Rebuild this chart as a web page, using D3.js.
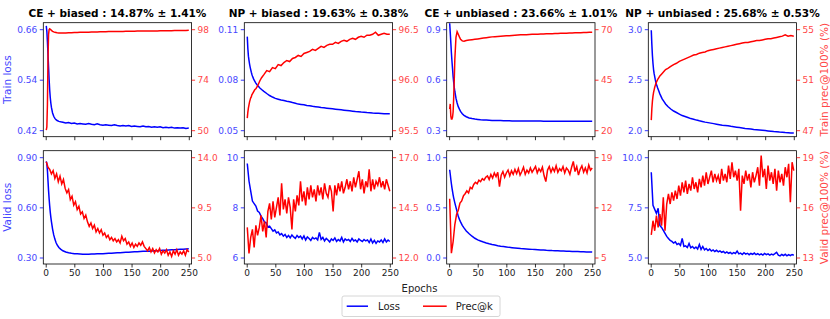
<!doctype html>
<html>
<head>
<meta charset="UTF-8">
<script src="https://d3js.org/d3.v7.min.js"></script>
<style>
  body { margin: 0; background: #fff; }
  svg { font-family: "DejaVu Sans", sans-serif; }
</style>
</head>
<body>
<script>
// epochs grids
const epochsA = [1,2,3,4,5,6,7,8,9,10,12,14,16,18,20,23,26,30,35,40,45,50,55,60,65,70,75,80,85,90,95,100,
  105,110,115,120,125,130,135,140,145,150,155,160,165,170,175,180,185,190,195,200,205,210,215,220,225,230,235,240,245,250];
const epochsB = d3.range(1, 251, 3);

// top row: train loss / train prec@100%
const trainLossCEb = [0.668,0.655,0.63,0.60,0.57,0.54,0.515,0.497,0.484,0.474,0.461,0.453,0.448,0.445,0.443,0.441,0.440,0.439,0.437,0.438,
  0.436,0.437,0.435,0.436,0.435,0.434,0.436,0.434,0.433,0.435,0.433,0.432,0.433,0.432,0.431,0.433,0.431,0.430,0.431,0.430,
  0.431,0.429,0.430,0.429,0.428,0.430,0.428,0.429,0.427,0.428,0.427,0.428,0.426,0.427,0.426,0.427,0.425,0.426,0.425,0.426,0.424,0.425];
const trainPrecCEb = [50.0,51.5,62,84,95.5,97.8,98.2,98.0,97.7,97.4,97.0,96.7,96.5,96.4,96.3,96.2,96.2,96.2,96.25,96.3,
  96.35,96.4,96.45,96.5,96.55,96.6,96.6,96.65,96.7,96.7,96.75,96.8,96.8,96.85,96.85,96.9,96.9,96.95,96.95,97.0,
  97.0,97.05,97.05,97.1,97.1,97.1,97.15,97.15,97.2,97.2,97.2,97.25,97.25,97.3,97.3,97.3,97.35,97.35,97.4,97.4,97.4,97.45];
const trainLossNPb = [0.1056,0.0985,0.094,0.0915,0.0893,0.0875,0.086,0.0845,0.0832,0.0822,0.0805,0.0791,0.0780,0.0770,0.0762,0.0751,0.0742,0.0731,0.0718,0.0706,
  0.0697,0.0689,0.0684,0.0679,0.0676,0.0672,0.0669,0.0664,0.0660,0.0655,0.0653,0.0651,0.0647,0.0645,0.0642,0.0640,0.0638,0.0635,0.0633,0.0631,
  0.0629,0.0627,0.0625,0.0623,0.0621,0.0619,0.0617,0.0615,0.0613,0.0611,0.0610,0.0608,0.0607,0.0605,0.0604,0.0602,0.0601,0.0600,0.0599,0.0598,0.0597,0.0597];
const trainPrecNPb = [95.62,95.68,95.72,95.75,95.78,95.80,95.82,95.83,95.85,95.86,95.88,95.90,95.91,95.93,95.95,95.99,96.02,96.05,96.09,96.08,
  96.12,96.11,96.15,96.14,96.17,96.19,96.18,96.21,96.22,96.24,96.23,96.26,96.27,96.28,96.30,96.29,96.31,96.33,96.32,96.34,
  96.35,96.35,96.37,96.36,96.38,96.39,96.38,96.40,96.41,96.40,96.42,96.43,96.42,96.44,96.44,96.45,96.47,96.44,96.45,96.46,96.45,96.45];
const trainLossCEu = [0.935,0.88,0.82,0.76,0.71,0.665,0.62,0.585,0.555,0.53,0.49,0.462,0.44,0.425,0.412,0.398,0.388,0.38,0.373,0.369,
  0.366,0.364,0.362,0.361,0.360,0.359,0.358,0.358,0.357,0.357,0.356,0.356,0.356,0.355,0.355,0.355,0.355,0.354,0.354,0.354,
  0.354,0.354,0.354,0.354,0.353,0.353,0.353,0.353,0.353,0.353,0.353,0.353,0.353,0.353,0.353,0.353,0.353,0.353,0.353,0.353,0.353,0.353];
const trainPrecCEu = [30.5,33,27,25.5,25.5,26.5,29,36,45,55,66,68.8,67.5,66.2,65,64.2,64.0,64.4,64.6,64.8,
  65.0,65.2,65.4,65.6,65.8,66.0,66.2,66.3,66.4,66.5,66.6,66.7,66.8,66.9,67.0,67.1,67.2,67.25,67.3,67.4,
  67.45,67.5,67.55,67.6,67.65,67.7,67.75,67.8,67.85,67.9,67.95,68.0,68.05,68.1,68.15,68.2,68.25,68.3,68.35,68.4,68.45,68.5];
const trainLossNPu = [2.99,2.85,2.74,2.66,2.60,2.56,2.53,2.50,2.475,2.455,2.42,2.39,2.36,2.335,2.31,2.285,2.26,2.235,2.21,2.19,
  2.175,2.16,2.145,2.135,2.125,2.115,2.108,2.10,2.093,2.087,2.08,2.075,2.07,2.065,2.06,2.055,2.05,2.047,2.043,2.038,
  2.034,2.03,2.026,2.022,2.018,2.015,2.012,2.008,2.005,2.002,1.999,1.996,1.993,1.99,1.987,1.985,1.982,1.98,1.977,1.975,1.973,1.972];
const trainPrecNPu = [47.8,48.7,49.3,49.7,50.0,50.2,50.4,50.55,50.7,50.8,51.0,51.15,51.3,51.4,51.5,51.65,51.8,51.9,52.05,52.2,
  52.3,52.45,52.55,52.65,52.75,52.85,52.95,53.0,53.1,53.15,53.2,53.3,53.35,53.4,53.45,53.5,53.55,53.6,53.65,53.7,
  53.75,53.8,53.85,53.9,53.95,53.95,54.0,54.05,54.1,54.1,54.15,54.2,54.25,54.25,54.3,54.35,54.4,54.45,54.55,54.45,54.5,54.45];

// bottom row: valid loss / valid prec@100%
const validLossCEb = [0.875,0.86,0.82,0.76,0.70,0.65,0.607,0.57,0.54,0.515,0.47,0.435,0.41,0.39,0.375,0.36,0.35,0.34,0.333,0.328,
  0.325,0.323,0.322,0.321,0.32,0.32,0.32,0.321,0.321,0.322,0.322,0.323,0.324,0.325,0.326,0.327,0.328,0.329,0.330,0.331,
  0.332,0.333,0.334,0.335,0.336,0.337,0.338,0.338,0.339,0.340,0.341,0.342,0.343,0.344,0.345,0.346,0.347,0.348,0.349,0.350,0.351,0.352];
const validPrecCEb = [13.6,13.1,12.9,12.5,12.8,12.1,12.5,11.8,12.3,11.6,
  12.0,11.2,10.8,11.1,10.2,10.5,9.7,10.0,9.3,9.6,
  8.9,9.1,8.5,8.8,8.2,7.8,8.1,7.6,7.9,7.3,
  7.6,7.2,7.5,7.0,7.2,6.8,7.0,6.6,6.8,6.5,
  6.7,6.4,6.6,6.3,6.9,6.5,6.7,6.2,6.4,6.0,
  6.3,5.9,6.2,6.0,6.3,6.1,6.4,6.0,5.8,5.6,
  5.9,5.5,5.8,5.4,5.7,5.5,5.8,5.3,5.6,5.4,
  5.7,5.2,5.5,5.1,5.6,5.3,5.7,5.2,5.5,5.3,
  5.6,5.2,5.7,5.5];
const validLossNPb = [9.75,9.05,8.65,8.25,8.15,8.05,7.85,7.80,7.65,7.55,
  7.42,7.38,7.22,7.25,7.15,7.05,7.10,6.98,7.02,6.90,
  6.95,6.85,6.92,6.80,6.88,6.78,6.90,6.82,6.76,6.88,
  6.80,6.85,6.74,6.86,6.70,6.82,6.76,6.68,6.80,6.74,
  6.78,6.70,7.00,6.72,6.80,6.66,6.76,6.70,6.62,6.74,
  6.68,6.78,6.64,6.72,6.66,6.80,6.62,6.74,6.68,6.72,
  6.64,6.76,6.66,6.70,6.62,6.74,6.68,6.64,6.72,6.66,
  6.70,6.60,6.74,6.58,6.68,6.56,6.66,6.62,6.70,6.60,
  6.74,6.62,6.70,6.64];
const validPrecNPb = [13.5,12.2,13.0,13.4,12.5,13.6,13.1,13.5,14.1,13.3,
  13.8,13.0,14.3,14.7,13.9,14.8,14.0,14.5,15.0,14.1,
  15.7,14.4,14.9,14.2,15.0,14.5,13.4,14.9,14.3,15.1,
  14.6,15.8,14.8,15.3,14.6,15.5,14.9,15.6,15.0,15.4,
  14.8,15.6,15.1,15.5,14.9,15.7,15.2,15.0,15.6,15.3,
  14.3,15.6,15.1,15.7,15.3,15.8,15.2,15.5,15.9,15.4,
  15.8,15.3,16.0,15.5,15.9,16.3,15.4,15.9,15.2,15.8,
  15.5,16.4,15.3,15.9,15.4,15.8,15.6,16.0,15.5,15.8,
  15.4,15.9,15.6,15.3];
const validLossCEu = [0.875,0.83,0.78,0.735,0.695,0.66,0.625,0.595,0.57,0.545,0.50,0.455,0.41,0.38,0.355,0.32,0.295,0.265,0.237,0.212,
  0.192,0.176,0.164,0.154,0.145,0.137,0.13,0.124,0.118,0.113,0.109,0.105,0.101,0.098,0.095,0.092,0.089,0.087,0.085,0.083,
  0.081,0.079,0.077,0.075,0.074,0.072,0.071,0.069,0.068,0.067,0.065,0.064,0.063,0.062,0.061,0.060,0.059,0.058,0.057,0.056,0.055,0.054];
const validPrecCEu = [13.2,5.6,7.2,9.6,11.0,11.6,12.6,12.9,13.6,13.9,
  14.3,14.0,14.8,14.6,15.2,15.5,15.3,15.8,15.6,16.0,
  15.8,16.2,16.4,15.9,16.6,16.1,16.8,16.3,16.9,14.9,
  16.5,17.0,16.2,16.8,17.2,16.4,17.1,16.6,17.3,16.7,
  17.4,16.5,17.0,17.6,16.6,17.2,16.8,17.5,16.9,17.3,
  17.7,16.8,17.4,17.0,17.6,16.4,15.6,17.2,17.7,16.9,
  17.5,17.0,17.8,16.9,17.4,17.1,17.7,16.8,17.5,17.2,
  16.6,17.6,18.4,17.0,17.7,16.5,17.3,17.8,16.9,17.5,
  16.8,17.9,17.2,17.5];
const validLossNPu = [9.25,7.6,7.4,7.2,7.45,6.6,6.5,6.35,6.2,6.05,
  5.95,5.85,5.80,5.72,5.78,5.65,5.70,5.60,5.95,5.55,
  5.58,5.50,5.70,5.48,5.55,5.45,5.52,5.42,5.65,5.40,
  5.55,5.38,5.45,5.35,5.42,5.32,5.38,5.30,5.36,5.28,
  5.33,5.26,5.30,5.22,5.28,5.21,5.25,5.18,5.24,5.20,
  5.32,5.18,5.22,5.15,5.24,5.17,5.21,5.14,5.20,5.16,
  5.22,5.14,5.19,5.13,5.18,5.12,5.20,5.14,5.18,5.12,
  5.17,5.13,5.19,5.26,5.12,5.08,5.15,5.10,5.16,5.08,
  5.14,5.09,5.15,5.11];
const validPrecNPu = [14.35,15.2,14.6,15.5,14.8,15.6,14.9,16.6,14.6,16.2,
  16.8,16.2,16.9,16.4,17.0,16.5,17.3,16.7,17.5,16.9,
  17.6,16.8,17.4,17.0,17.8,17.1,17.5,16.9,17.7,17.2,
  17.9,17.3,18.1,17.4,17.8,18.2,17.5,18.0,17.6,17.9,
  17.4,18.3,17.6,18.0,17.5,18.5,17.7,18.7,17.8,18.2,
  17.6,18.3,15.8,17.9,17.4,18.2,17.6,18.0,17.2,18.1,
  17.5,17.9,18.4,17.3,19.1,17.8,18.3,17.1,18.5,17.6,
  18.1,17.4,18.3,17.0,18.2,17.5,18.0,17.3,18.4,17.8,
  18.6,16.3,18.7,18.2];

// titles and tick labels
const titles = ["CE + biased : 14.87% \u00b1 1.41%", "NP + biased : 19.63% \u00b1 0.38%",
  "CE + unbiased : 23.66% \u00b1 1.01%", "NP + unbiased : 25.68% \u00b1 0.53%"];
const xTicks = [0, 50, 100, 150, 200, 250];
const lossTicks = [["0.42","0.54","0.66"], ["0.05","0.08","0.11"], ["0.3","0.6","0.9"], ["2.0","2.5","3.0"],
  ["0.30","0.60","0.90"], ["6","8","10"], ["0.0","0.5","1.0"], ["5.0","7.5","10.0"]];
const precTicks = [["50","74","98"], ["95.5","96.0","96.5"], ["20","45","70"], ["47","51","55"],
  ["5.0","9.5","14.0"], ["12.0","14.5","17.0"], ["5","12","19"], ["13","16","19"]];
const lossSeries = [trainLossCEb, trainLossNPb, trainLossCEu, trainLossNPu, validLossCEb, validLossNPb, validLossCEu, validLossNPu];
const precSeries = [trainPrecCEb, trainPrecNPb, trainPrecCEu, trainPrecNPu, validPrecCEb, validPrecNPb, validPrecCEu, validPrecNPu];
const lossEpochs = [epochsA, epochsA, epochsA, epochsA, epochsA, epochsB, epochsA, epochsB];
const precEpochs = [epochsA, epochsA, epochsA, epochsA, epochsB, epochsB, epochsB, epochsB];

const W = 830, H = 319;
const colLeft = [43.3, 244.3, 446.7, 648.3];
const pw = 148.3;
const rowTop = [22.7, 150.7];
const ph = [114, 113.3];
const BLUE = "#0000ff", RED = "#ff0000";
const BLUE_TXT = "#4747ff", RED_TXT = "#ff4747";

const svg = d3.select("body").append("svg")
  .attr("width", W).attr("height", H);

for (let k = 0; k < 8; k++) {
  const r = Math.floor(k / 4), c = k % 4;
  const left = colLeft[c], top = rowTop[r], h = ph[r];
  const g = svg.append("g").attr("transform", "translate(" + left + "," + top + ")");

  const x = d3.scaleLinear().domain([-4.2, 254.9]).range([0, pw]);
  const lv = lossTicks[k].map(Number), pv = precTicks[k].map(Number);
  const yL = d3.scaleLinear().domain([lv[0], lv[2]]).range([h - 6.5, 6.5]);
  const yR = d3.scaleLinear().domain([pv[0], pv[2]]).range([h - 6.5, 6.5]);

  g.append("clipPath").attr("id", "clip" + k)
    .append("rect").attr("width", pw).attr("height", h);

  const lineL = d3.line().x(d => x(d[0])).y(d => yL(d[1]));
  const lineR = d3.line().x(d => x(d[0])).y(d => yR(d[1]));

  g.append("path")
    .datum(lossEpochs[k].map((e, i) => [e, lossSeries[k][i]]))
    .attr("d", lineL).attr("fill", "none").attr("stroke", BLUE)
    .attr("stroke-width", 1.5).attr("clip-path", "url(#clip" + k + ")");
  g.append("path")
    .datum(precEpochs[k].map((e, i) => [e, precSeries[k][i]]))
    .attr("d", lineR).attr("fill", "none").attr("stroke", RED)
    .attr("stroke-width", 1.5).attr("clip-path", "url(#clip" + k + ")");

  g.append("rect").attr("width", pw).attr("height", h)
    .attr("fill", "none").attr("stroke", "#000").attr("stroke-width", 0.8);

  const ax = g.append("g").attr("transform", "translate(0," + h + ")")
    .call(d3.axisBottom(x).tickValues(xTicks).tickSize(3.5).tickPadding(2.5)
      .tickFormat(r === 1 ? d3.format("d") : ""));
  ax.select(".domain").remove();
  ax.selectAll("line").attr("stroke", "#000").attr("stroke-width", 0.8);
  ax.selectAll("text").attr("fill", "#222").style("font-size", "9px").style("font-family", "DejaVu Sans");

  const al = g.append("g")
    .call(d3.axisLeft(yL).tickValues(lv).tickFormat((d, i) => lossTicks[k][i]).tickSize(3.5).tickPadding(2.5));
  al.select(".domain").remove();
  al.selectAll("line").attr("stroke", BLUE).attr("stroke-width", 0.8);
  al.selectAll("text").attr("fill", BLUE_TXT).style("font-size", "9px").style("font-family", "DejaVu Sans");

  const ar = g.append("g").attr("transform", "translate(" + pw + ",0)")
    .call(d3.axisRight(yR).tickValues(pv).tickFormat((d, i) => precTicks[k][i]).tickSize(3.5).tickPadding(2.5));
  ar.select(".domain").remove();
  ar.selectAll("line").attr("stroke", RED).attr("stroke-width", 0.8);
  ar.selectAll("text").attr("fill", RED_TXT).style("font-size", "9px").style("font-family", "DejaVu Sans");

  if (r === 0) {
    g.append("text").attr("x", pw / 2).attr("y", -5.5)
      .attr("text-anchor", "middle").attr("font-weight", "bold")
      .attr("font-size", "10.5px").attr("fill", "#000").text(titles[c]);
  }
}

// axis labels
svg.append("text").attr("transform", "translate(10.5," + (rowTop[0] + ph[0] / 2) + ") rotate(-90)")
  .attr("text-anchor", "middle").attr("font-size", "10.5px").attr("fill", BLUE_TXT).text("Train loss");
svg.append("text").attr("transform", "translate(10.5," + (rowTop[1] + ph[1] / 2) + ") rotate(-90)")
  .attr("text-anchor", "middle").attr("font-size", "10.5px").attr("fill", BLUE_TXT).text("Valid loss");
svg.append("text").attr("transform", "translate(827.5," + (rowTop[0] + ph[0] / 2) + ") rotate(-90)")
  .attr("text-anchor", "middle").attr("font-size", "10.5px").attr("fill", RED_TXT).text("Train prec@100% (%)");
svg.append("text").attr("transform", "translate(827.5," + (rowTop[1] + ph[1] / 2) + ") rotate(-90)")
  .attr("text-anchor", "middle").attr("font-size", "10.5px").attr("fill", RED_TXT).text("Valid prec@100% (%)");
svg.append("text").attr("x", 419.5).attr("y", 292)
  .attr("text-anchor", "middle").attr("font-size", "10px").attr("fill", "#222").text("Epochs");

// legend
const lg = svg.append("g").attr("transform", "translate(342,296)");
lg.append("rect").attr("width", 158).attr("height", 20.5).attr("rx", 2)
  .attr("fill", "#fff").attr("stroke", "#ccc").attr("stroke-width", 0.8);
lg.append("line").attr("x1", 4.7).attr("x2", 26).attr("y1", 10.2).attr("y2", 10.2)
  .attr("stroke", BLUE).attr("stroke-width", 1.5);
lg.append("text").attr("x", 36).attr("y", 13.8).attr("font-size", "10px").attr("fill", "#222").text("Loss");
lg.append("line").attr("x1", 81).attr("x2", 104.7).attr("y1", 10.2).attr("y2", 10.2)
  .attr("stroke", RED).attr("stroke-width", 1.5);
lg.append("text").attr("x", 113.7).attr("y", 13.8).attr("font-size", "10px").attr("fill", "#222").text("Prec@k");
</script>
</body>
</html>
